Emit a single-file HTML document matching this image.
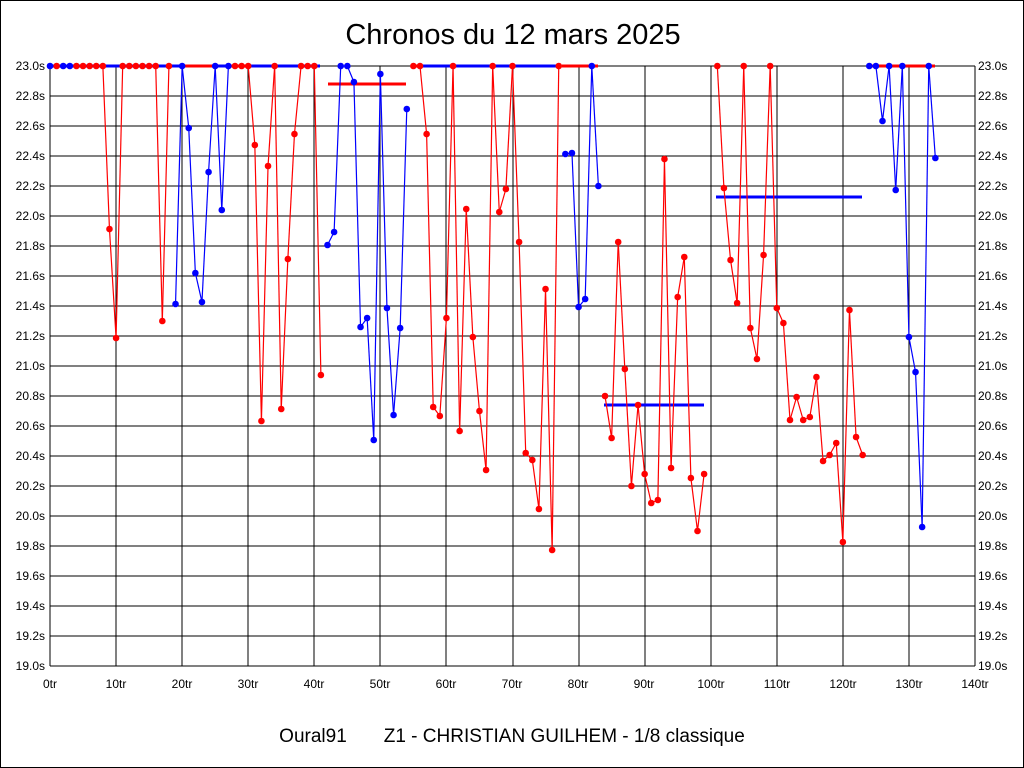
<!DOCTYPE html>
<html><head><meta charset="utf-8"><style>
html,body{margin:0;padding:0;background:#fff}
svg{display:block}
text{font-family:"Liberation Sans",Arial,sans-serif}
</style></head><body>
<svg id="s" width="1024" height="768" xmlns="http://www.w3.org/2000/svg">
<rect x="0" y="0" width="1024" height="768" fill="#fff"/>
<text x="513" y="44" font-size="29" text-anchor="middle">Chronos du 12 mars 2025</text>
<text x="512" y="742" font-size="19" text-anchor="middle" xml:space="preserve">Oural91       Z1 - CHRISTIAN GUILHEM - 1/8 classique</text>
<g id="grid" stroke="#000" stroke-width="1" shape-rendering="crispEdges"></g>
<g font-size="12" text-anchor="end">
<text x="45" y="70">23.0s</text><text x="45" y="100">22.8s</text><text x="45" y="130">22.6s</text><text x="45" y="160">22.4s</text><text x="45" y="190">22.2s</text><text x="45" y="220">22.0s</text><text x="45" y="250">21.8s</text><text x="45" y="280">21.6s</text><text x="45" y="310">21.4s</text><text x="45" y="340">21.2s</text><text x="45" y="370">21.0s</text><text x="45" y="400">20.8s</text><text x="45" y="430">20.6s</text><text x="45" y="460">20.4s</text><text x="45" y="490">20.2s</text><text x="45" y="520">20.0s</text><text x="45" y="550">19.8s</text><text x="45" y="580">19.6s</text><text x="45" y="610">19.4s</text><text x="45" y="640">19.2s</text><text x="45" y="670">19.0s</text>
</g>
<g font-size="12" text-anchor="start">
<text x="978" y="70">23.0s</text><text x="978" y="100">22.8s</text><text x="978" y="130">22.6s</text><text x="978" y="160">22.4s</text><text x="978" y="190">22.2s</text><text x="978" y="220">22.0s</text><text x="978" y="250">21.8s</text><text x="978" y="280">21.6s</text><text x="978" y="310">21.4s</text><text x="978" y="340">21.2s</text><text x="978" y="370">21.0s</text><text x="978" y="400">20.8s</text><text x="978" y="430">20.6s</text><text x="978" y="460">20.4s</text><text x="978" y="490">20.2s</text><text x="978" y="520">20.0s</text><text x="978" y="550">19.8s</text><text x="978" y="580">19.6s</text><text x="978" y="610">19.4s</text><text x="978" y="640">19.2s</text><text x="978" y="670">19.0s</text>
</g>
<g font-size="12" text-anchor="middle">
<text x="50" y="688">0tr</text><text x="116" y="688">10tr</text><text x="182" y="688">20tr</text><text x="248" y="688">30tr</text><text x="314" y="688">40tr</text><text x="380" y="688">50tr</text><text x="446" y="688">60tr</text><text x="512" y="688">70tr</text><text x="578" y="688">80tr</text><text x="644" y="688">90tr</text><text x="711" y="688">100tr</text><text x="777" y="688">110tr</text><text x="843" y="688">120tr</text><text x="909" y="688">130tr</text><text x="975" y="688">140tr</text>
</g>
<g id="data"></g>
</svg>
<script>
var NS="http://www.w3.org/2000/svg";
function el(p,t,a){var e=document.createElementNS(NS,t);for(var k in a)e.setAttribute(k,a[k]);p.appendChild(e);return e;}
var g=document.getElementById('grid');
for(var i=0;i<=20;i++){var y=66+30*i;el(g,'line',{x1:50,x2:975,y1:y,y2:y});}
for(var i=0;i<=14;i++){var x=Math.round(50+925*i/14);el(g,'line',{x1:x,x2:x,y1:66,y2:666});}
el(g,'rect',{x:0.5,y:0.5,width:1023,height:767,fill:'none'});
var d=document.getElementById('data');
var R='#f00',B='#00f';
[[50,182,B],[182,214,R],[214,228,B],[228,248,R],[248,320,B],[412,419,R],[419,558,B],[562,598,R],[868,935,R]].forEach(function(s){el(d,'line',{x1:s[0],x2:s[1],y1:66,y2:66,stroke:s[2],'stroke-width':3});});
el(d,'line',{x1:328,x2:406,y1:84,y2:84,stroke:R,'stroke-width':3});
el(d,'line',{x1:604,x2:704,y1:405,y2:405,stroke:B,'stroke-width':3});
el(d,'line',{x1:716,x2:862,y1:197,y2:197,stroke:B,'stroke-width':3});
var P={0:['b',66],1:['r',66],2:['b',66],3:['b',66],4:['r',66],5:['r',66],6:['r',66],7:['r',66],8:['r',66],9:['r',229],10:['r',338],
11:['r',66],12:['r',66],13:['r',66],14:['r',66],15:['r',66],16:['r',66],17:['r',321],18:['r',66],19:['b',304],20:['b',66],21:['b',128],22:['b',273],23:['b',302],24:['b',172],25:['b',66],26:['b',210],27:['b',66],28:['r',66],29:['r',66],30:['r',66],31:['r',145],32:['r',421],33:['r',166],34:['r',66],35:['r',409],36:['r',259],37:['r',134],38:['r',66],39:['r',66],40:['r',66],41:['r',375],
42:['b',245],43:['b',232],44:['b',66],45:['b',66],46:['b',82],47:['b',327],48:['b',318],49:['b',440],50:['b',74],51:['b',308],52:['b',415],53:['b',328],54:['b',109],
55:['r',66],56:['r',66],57:['r',134],58:['r',407],59:['r',416],60:['r',318],61:['r',66],62:['r',431],63:['r',209],64:['r',337],65:['r',411],66:['r',470],67:['r',66],68:['r',212],69:['r',189],70:['r',66],71:['r',242],72:['r',453],73:['r',460],74:['r',509],75:['r',289],76:['r',550],77:['r',66],
78:['b',154],79:['b',153],80:['b',307],81:['b',299],82:['b',66],83:['b',186],
84:['r',396],85:['r',438],86:['r',242],87:['r',369],88:['r',486],89:['r',405],90:['r',474],91:['r',503],92:['r',500],93:['r',159],94:['r',468],95:['r',297],96:['r',257],97:['r',478],98:['r',531],99:['r',474],
101:['r',66],102:['r',188],103:['r',260],104:['r',303],105:['r',66],106:['r',328],107:['r',359],108:['r',255],109:['r',66],110:['r',308],111:['r',323],112:['r',420],113:['r',397],114:['r',420],115:['r',417],116:['r',377],117:['r',461],118:['r',455],119:['r',443],120:['r',542],121:['r',310],122:['r',437],123:['r',455],
124:['b',66],125:['b',66],126:['b',121],127:['b',66],128:['b',190],129:['b',66],130:['b',337],131:['b',372],132:['b',527],133:['b',66],134:['b',158]};
function X(n){return 50+925*n/140;}
for(var n=0;n<134;n++){var a=P[n],b=P[n+1];if(a&&b&&a[0]==b[0]){el(d,'line',{x1:X(n),y1:a[1],x2:X(n+1),y2:b[1],stroke:a[0]=='r'?R:B,'stroke-width':1.2});}}
for(var n=0;n<=134;n++){var a=P[n];if(a)el(d,'circle',{cx:X(n),cy:a[1],r:3.3,fill:a[0]=='r'?R:B});}
</script>
</body></html>
